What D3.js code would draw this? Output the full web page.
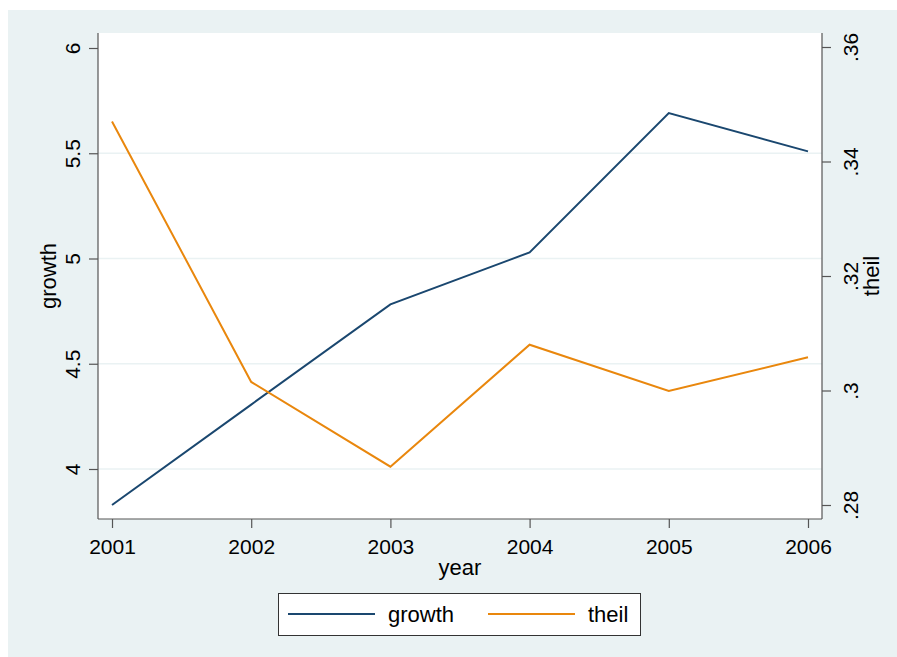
<!DOCTYPE html>
<html>
<head>
<meta charset="utf-8">
<script src="https://cdn.jsdelivr.net/npm/d3@7"></script>
<style>
  html, body { margin: 0; padding: 0; background: #fff; }
  svg text { font-family: "Liberation Sans", Arial, sans-serif; fill: #000; }
</style>
</head>
<body>
<svg id="chart" width="897" height="657"></svg>
<script>
// Yearly growth and Theil index
const years = [2001, 2002, 2003, 2004, 2005, 2006];
const growth = [3.829, 4.306, 4.782, 5.029, 5.691, 5.509];
const theil = [0.347, 0.3015, 0.2867, 0.308, 0.2999, 0.3058];

const growthTicks = [4, 4.5, 5, 5.5, 6];
const growthTickLabels = ["4", "4.5", "5", "5.5", "6"];
const theilTicks = [0.28, 0.30, 0.32, 0.34, 0.36];
const theilTickLabels = [".28", ".3", ".32", ".34", ".36"];

const seriesNames = ["growth", "theil"];
const seriesColors = ["#1a476f", "#e9870d"];

const W = 897, H = 657;
const plot = { left: 98, right: 822, top: 33, bottom: 519 };
const svg = d3.select("#chart");

// outer background
svg.append("rect").attr("x", 8).attr("y", 10).attr("width", W - 8).attr("height", H - 10)
  .attr("fill", "#eaf2f3");
// plot region
svg.append("rect").attr("x", plot.left).attr("y", plot.top)
  .attr("width", plot.right - plot.left).attr("height", plot.bottom - plot.top)
  .attr("fill", "#fff");

// x scale: 2001 and 2006 sit slightly inside the plot edges
const x = d3.scaleLinear()
  .domain([2001 - (112 - plot.left) / 139.1, 2006 + (plot.right - 808) / 139.1])
  .range([plot.left, plot.right]);

const yL = d3.scaleLinear()
  .domain([4 - (plot.bottom - 469) / 210.5, 6 + (48 - plot.top) / 210.5])
  .range([plot.bottom, plot.top]);
const yR = d3.scaleLinear()
  .domain([0.28 - (plot.bottom - 505) / 5725, 0.36 + (47 - plot.top) / 5725])
  .range([plot.bottom, plot.top]);

// gridlines (left axis ticks, excluding the top one)
svg.append("g").selectAll("line").data(growthTicks.filter(t => t < 6)).join("line")
  .attr("x1", plot.left).attr("x2", plot.right)
  .attr("y1", d => yL(d)).attr("y2", d => yL(d))
  .attr("stroke", "#eaf2f3").attr("stroke-width", 1.5);

const axisColor = "#555";
const tickFont = 21;
const titleFont = 22;

// left axis
const gL = svg.append("g").attr("transform", `translate(${plot.left},0)`)
  .call(d3.axisLeft(yL).tickValues(growthTicks).tickFormat((d, i) => growthTickLabels[i])
    .tickSizeInner(9).tickSizeOuter(0).tickPadding(0));
gL.select(".domain").attr("stroke", axisColor).attr("stroke-width", 1.2)
  .attr("d", `M0,${plot.top}V${plot.bottom}`);
gL.selectAll(".tick line").attr("stroke", axisColor).attr("stroke-width", 1.2);
gL.selectAll(".tick text").attr("x", 0).attr("y", 0).attr("dy", 0)
  .attr("transform", "translate(-18,0) rotate(-90)")
  .attr("text-anchor", "middle").style("font-size", tickFont + "px")
  .style("font-family", '"Liberation Sans", Arial, sans-serif').attr("fill", "#000");

// right axis
const gR = svg.append("g").attr("transform", `translate(${plot.right},0)`)
  .call(d3.axisRight(yR).tickValues(theilTicks).tickFormat((d, i) => theilTickLabels[i])
    .tickSizeInner(9).tickSizeOuter(0).tickPadding(0));
gR.select(".domain").attr("stroke", axisColor).attr("stroke-width", 1.2)
  .attr("d", `M0,${plot.top}V${plot.bottom}`);
gR.selectAll(".tick line").attr("stroke", axisColor).attr("stroke-width", 1.2);
gR.selectAll(".tick text").attr("x", 0).attr("y", 0).attr("dy", 0)
  .attr("transform", "translate(36,0) rotate(-90)")
  .attr("text-anchor", "middle").style("font-size", tickFont + "px")
  .style("font-family", '"Liberation Sans", Arial, sans-serif').attr("fill", "#000");

// bottom axis
const gB = svg.append("g").attr("transform", `translate(0,${plot.bottom})`)
  .call(d3.axisBottom(x).tickValues(years).tickFormat(d3.format("d"))
    .tickSizeInner(9).tickSizeOuter(0).tickPadding(12));
gB.select(".domain").attr("stroke", axisColor).attr("stroke-width", 1.2)
  .attr("d", `M${plot.left},0H${plot.right}`);
gB.selectAll(".tick line").attr("stroke", axisColor).attr("stroke-width", 1.2);
gB.selectAll(".tick text").attr("dy", 0).attr("y", 35)
  .style("font-size", tickFont + "px")
  .style("font-family", '"Liberation Sans", Arial, sans-serif').attr("fill", "#000");

// axis titles
svg.append("text").attr("transform", `translate(56,${(plot.top + plot.bottom) / 2}) rotate(-90)`)
  .attr("text-anchor", "middle").style("font-size", titleFont + "px").text("growth");
svg.append("text").attr("transform", `translate(879,${(plot.top + plot.bottom) / 2}) rotate(-90)`)
  .attr("text-anchor", "middle").style("font-size", titleFont + "px").text("theil");
svg.append("text").attr("x", (plot.left + plot.right) / 2).attr("y", 575)
  .attr("text-anchor", "middle").style("font-size", titleFont + "px").text("year");

// series lines
const lineL = d3.line().x((d, i) => x(years[i])).y(d => yL(d));
const lineR = d3.line().x((d, i) => x(years[i])).y(d => yR(d));
svg.append("path").datum(growth).attr("d", lineL)
  .attr("fill", "none").attr("stroke", seriesColors[0]).attr("stroke-width", 2);
svg.append("path").datum(theil).attr("d", lineR)
  .attr("fill", "none").attr("stroke", seriesColors[1]).attr("stroke-width", 2);

// legend
const leg = svg.append("g");
leg.append("rect").attr("x", 278.5).attr("y", 593.5).attr("width", 362).attr("height", 42)
  .attr("fill", "#fff").attr("stroke", "#333").attr("stroke-width", 1);
const legX = [288, 488];
seriesNames.forEach((name, i) => {
  leg.append("line").attr("x1", legX[i]).attr("x2", legX[i] + 87)
    .attr("y1", 614).attr("y2", 614)
    .attr("stroke", seriesColors[i]).attr("stroke-width", 2);
  leg.append("text").attr("x", legX[i] + 100).attr("y", 622)
    .style("font-size", titleFont + "px").text(name);
});
</script>
</body>
</html>
